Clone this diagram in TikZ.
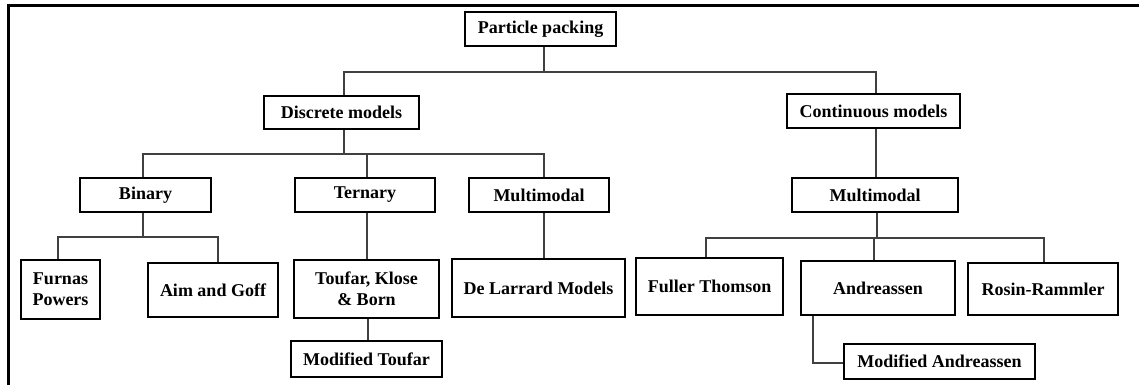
\documentclass[tikz,border=0pt]{standalone}
\usepackage{fontspec}
\setmainfont{Liberation Serif}
\begin{document}
\begin{tikzpicture}[x=1pt,y=-1pt,
  box/.style={draw=black, line width=1.6pt, fill=white, inner sep=0pt, align=center,
    font=\bfseries\fontsize{18}{21}\selectfont},
  link/.style={draw=black!75, line width=1.3pt}]
\useasboundingbox (0,0) rectangle (1139,385);
% frame
\draw[line width=3pt] (8,387) -- (8,6) -- (1141,6);

% level 0 and 1
\node[box, minimum width=151pt, minimum height=34pt] (pp)  at (540.5,29)   {Particle packing};
\node[box, minimum width=155pt, minimum height=33pt] (dm)  at (341.5,112.5) {Discrete models};
\node[box, minimum width=173pt, minimum height=34pt] (cm)  at (873.5,111)  {Continuous models};
% level 2
\node[box, minimum width=131pt, minimum height=34pt] (bin) at (145.5,195)  {Binary};
\node[box, minimum width=140pt, minimum height=34pt] (ter) at (365,195)    {Ternary};
\node[box, minimum width=140pt, minimum height=34pt] (mmd) at (539,195)    {Multimodal};
\node[box, minimum width=166pt, minimum height=34pt] (mmc) at (875,195)    {Multimodal};
% level 3
\node[box, minimum width=79pt,  minimum height=59pt] (fp)  at (60.5,289.5) {Furnas\\Powers};
\node[box, minimum width=130pt, minimum height=54pt] (ag)  at (213,290)    {Aim and Goff};
\node[box, minimum width=145pt, minimum height=58pt] (tkb) at (366.5,289)  {Toufar, Klose\\\& Born};
\node[box, minimum width=173pt, minimum height=58pt] (dl)  at (538.5,288)  {De Larrard Models};
\node[box, minimum width=147pt, minimum height=57pt] (ft)  at (709.5,286.5) {Fuller Thomson};
\node[box, minimum width=154pt, minimum height=54pt] (an)  at (878,288)    {Andreassen};
\node[box, minimum width=150pt, minimum height=52pt] (rr)  at (1043,289)   {Rosin-Rammler};
% level 4
\node[box, minimum width=151pt, minimum height=36pt] (mt)  at (366.5,359)  {Modified Toufar};
\node[box, minimum width=191pt, minimum height=35pt] (ma)  at (939.5,361.5) {Modified Andreassen};

% junction points of the buses
\coordinate (jA) at (544,72);
\coordinate (jB) at (344,154);
\coordinate (jC) at (143,237);
\coordinate (jD) at (877,238);

% connectors
\draw[link] ([xshift=3.5pt]pp.south) -- (jA);
\draw[link] ([xshift=2.5pt]dm.north) |- (jA) -| ([xshift=2.5pt]cm.north);

\draw[link] ([xshift=2.5pt]dm.south) -- (jB);
\draw[link] ([xshift=-2.5pt]bin.north) |- (jB) -| ([xshift=5pt]mmd.north);
\draw[link] ([xshift=2pt]ter.north) -- ([xshift=2pt]ter.north |- jB);

\draw[link] ([xshift=-2.5pt]bin.south) -- (jC);
\draw[link] ([xshift=-2.5pt]fp.north) |- (jC) -| ([xshift=5pt]ag.north);

\draw[link] ([xshift=2pt]ter.south) -- ([xshift=2pt]ter.south |- tkb.north);
\draw[link] ([xshift=1.5pt]tkb.south) -- ([xshift=1.5pt]tkb.south |- mt.north);
\draw[link] ([xshift=5pt]mmd.south) -- ([xshift=5pt]mmd.south |- dl.north);

\draw[link] ([xshift=2.5pt]cm.south) -- ([xshift=2.5pt]cm.south |- mmc.north);
\draw[link] ([xshift=2pt]mmc.south) -- (jD);
\draw[link] ([xshift=-3.5pt]ft.north) |- (jD) -| ([xshift=1pt]rr.north);
\draw[link] ([xshift=-4pt]an.north) -- ([xshift=-4pt]an.north |- jD);
\draw[link] ([xshift=-65pt]an.south) |- ([yshift=-1.5pt]ma.west);
\end{tikzpicture}
\end{document}
